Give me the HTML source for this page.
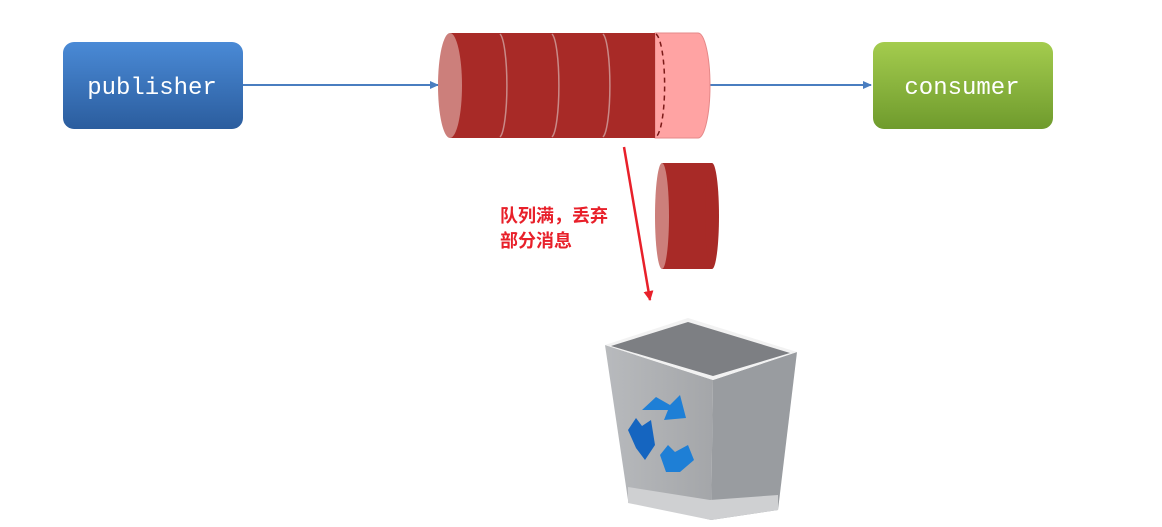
<!DOCTYPE html>
<html><head><meta charset="utf-8"><style>
body{margin:0;background:#fff;width:1162px;height:522px;overflow:hidden}
</style></head><body>
<svg width="1162" height="522" xmlns="http://www.w3.org/2000/svg">
<defs>
<linearGradient id="bl" x1="0" y1="0" x2="0" y2="1"><stop offset="0" stop-color="#4a8ad6"/><stop offset="1" stop-color="#2b5d9e"/></linearGradient>
<linearGradient id="gr" x1="0" y1="0" x2="0" y2="1"><stop offset="0" stop-color="#a4cc4e"/><stop offset="1" stop-color="#6f9b2d"/></linearGradient>
<linearGradient id="tl" x1="0" y1="0" x2="1" y2="0"><stop offset="0" stop-color="#b8babd"/><stop offset="1" stop-color="#a4a6a9"/></linearGradient>
<marker id="ab" markerWidth="10" markerHeight="10" refX="8" refY="4" orient="auto" markerUnits="userSpaceOnUse"><path d="M0,0 L9,4 L0,8 z" fill="#4a7ec0"/></marker>
<marker id="ar" markerWidth="12" markerHeight="12" refX="9" refY="5" orient="auto" markerUnits="userSpaceOnUse"><path d="M0,0 L10,5 L0,10 z" fill="#e8202a"/></marker>
</defs>
<rect x="63" y="42" width="180" height="87" rx="11" fill="url(#bl)"/>
<text x="152" y="94" font-family="Liberation Mono,monospace" font-size="24" fill="#fff" text-anchor="middle">publisher</text>
<rect x="873" y="42" width="180" height="87" rx="11" fill="url(#gr)"/>
<text x="962" y="94" font-family="Liberation Mono,monospace" font-size="24" fill="#fff" text-anchor="middle">consumer</text>
<line x1="243" y1="85" x2="438" y2="85" stroke="#4a7ec0" stroke-width="2" marker-end="url(#ab)"/>
<line x1="708" y1="85" x2="871" y2="85" stroke="#4a7ec0" stroke-width="2" marker-end="url(#ab)"/>
<path d="M655,33 L698,33 A12,52.5 0 0 1 698,138 L655,138 Z" fill="#ffa3a3" stroke="#e58888"/>
<path d="M450,33 L655,33 L655,138 L450,138 Z" fill="#a82a27"/>
<ellipse cx="450" cy="85.5" rx="12" ry="52.5" fill="#cc7f7b"/>
<path d="M500,34 A8,52 0 0 1 500,137" fill="none" stroke="#c98a88" stroke-width="1.5"/>
<path d="M552,34 A8,52 0 0 1 552,137" fill="none" stroke="#c98a88" stroke-width="1.5"/>
<path d="M603,34 A8,52 0 0 1 603,137" fill="none" stroke="#c98a88" stroke-width="1.5"/>
<path d="M656,34 A10,52 0 0 1 656,137" fill="none" stroke="#7a1a18" stroke-width="1.5" stroke-dasharray="5,4"/>
<rect x="662" y="163" width="50" height="106" fill="#a82a27"/>
<ellipse cx="712" cy="216" rx="7" ry="53" fill="#a82a27"/>
<ellipse cx="662" cy="216" rx="7" ry="53" fill="#cc7f7b"/>
<line x1="624" y1="147" x2="650" y2="300" stroke="#e8202a" stroke-width="2.5" marker-end="url(#ar)"/>
<text font-family="Liberation Sans,'Noto Sans CJK SC',sans-serif" font-size="18" font-weight="bold" fill="#e8202a"><tspan x="500" y="222">队列满，丢弃</tspan><tspan x="500" y="247">部分消息</tspan></text>
<path d="M605,345 L713,380 L711,520 L628,500 Z" fill="url(#tl)"/>
<path d="M713,380 L797,352 L778,510 L711,520 Z" fill="#999ca0"/>
<path d="M605,345 L688,318 L797,352 L713,380 Z" fill="#f2f2f2"/>
<path d="M611,346 L688,322 L790,353 L713,376 Z" fill="#7d7f83"/>
<path d="M628,487 L710,500 L778,495 L778,510 L711,520 L628,503 Z" fill="#cfd0d2"/>
<g fill="#1e7fd6">
<path d="M642,410 L656,397 L670,405 L680,395 L686,418 L664,420 L668,410 Z"/>
<path d="M628,430 L636,418 L642,426 L651,420 L655,445 L645,460 L636,448 Z" fill="#1565c0"/>
<path d="M660,455 L668,445 L675,452 L688,445 L694,460 L680,472 L666,472 Z"/>
</g>
</svg>
</body></html>
